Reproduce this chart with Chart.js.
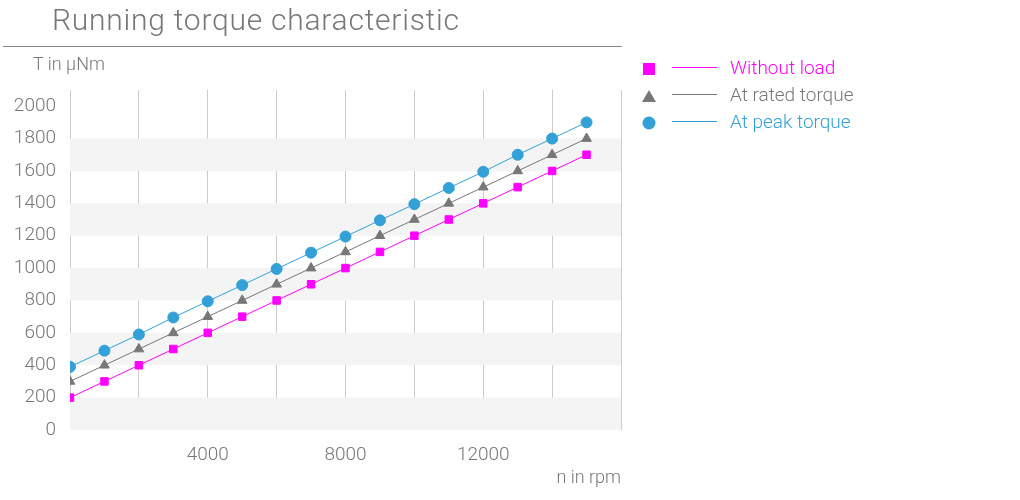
<!DOCTYPE html>
<html>
<head>
<meta charset="utf-8">
<script src="https://cdn.jsdelivr.net/npm/chart.js@4/dist/chart.umd.min.js"></script>
<style>
  html, body { margin: 0; padding: 0; background: #fff; }
  body { width: 1020px; height: 500px; position: relative; overflow: hidden; font-family: Roboto, "Noto Sans", sans-serif; color: #777; }
  #wrap { position: absolute; left: 0; top: 0; width: 1020px; height: 500px; }
  #title { position: absolute; left: 52px; top: 0px; font-size: 30px; letter-spacing: 0.75px; font-weight: 300; color: #777; white-space: nowrap; line-height: 40px; }
  #rule { position: absolute; left: 3px; top: 46px; width: 619px; height: 1px; background: #888; }
  #ytitle { position: absolute; left: 33px; top: 53px; font-size: 18px; font-weight: 300; color: #777; white-space: nowrap; line-height: 22px; }
  #xtitle { position: absolute; right: 399px; top: 466px; font-size: 18px; font-weight: 300; color: #777; white-space: nowrap; line-height: 22px; }
  #legend { position: absolute; left: 640px; top: 56px; }
  .row { position: relative; height: 27px; width: 300px; }
  .mk { position: absolute; left: 2px; top: 6px; width: 14px; height: 14px; }
  .ln { position: absolute; left: 32px; top: 11px; width: 45px; height: 1px; }
  .tx { position: absolute; left: 90px; top: 0px; font-size: 19px; font-weight: 300; line-height: 24px; white-space: nowrap; }
</style>
</head>
<body>
<div id="wrap"><canvas id="c" width="1020" height="500"></canvas></div>
<div id="title">Running torque characteristic</div>
<div id="rule"></div>
<div id="ytitle">T in µNm</div>
<div id="xtitle">n in rpm</div>
<div id="legend"></div>
<script>
const speeds = [0, 1000, 2000, 3000, 4000, 5000, 6000, 7000, 8000, 9000, 10000, 11000, 12000, 13000, 14000, 15000];
const withoutLoad = [200, 300, 400, 500, 600, 700, 800, 900, 1000, 1100, 1200, 1300, 1400, 1500, 1600, 1700];
const atRatedTorque = [300, 400, 500, 600, 700, 800, 900, 1000, 1100, 1200, 1300, 1400, 1500, 1600, 1700, 1800];
const atPeakTorque = [390, 490, 590, 695, 795, 895, 995, 1095, 1195, 1295, 1395, 1495, 1595, 1700, 1800, 1900];
const seriesNames = ["Without load", "At rated torque", "At peak torque"];
const seriesColors = ["#ff00ff", "#777777", "#33a0d8"];
const seriesMarkers = ["rect", "triangle", "circle"];
const xTickLabels = [4000, 8000, 12000];
const yTickLabels = [0, 200, 400, 600, 800, 1000, 1200, 1400, 1600, 1800, 2000];

const seriesValues = [withoutLoad, atRatedTorque, atPeakTorque];
const markerRadius = { rect: 5.3, triangle: 5.6, circle: 5.5 };

const bands = {
  id: 'bands',
  beforeDatasetsDraw(chart) {
    const y = chart.scales.y, a = chart.chartArea, ctx = chart.ctx;
    ctx.save();
    ctx.fillStyle = '#f4f4f4';
    for (let i = 0; i + 1 < yTickLabels.length; i += 2) {
      const top = y.getPixelForValue(yTickLabels[i + 1]);
      const bot = y.getPixelForValue(yTickLabels[i]);
      ctx.fillRect(a.left, top, a.right - a.left, bot - top);
    }
    ctx.restore();
  }
};

const datasets = seriesValues.map((vals, k) => ({
  label: seriesNames[k],
  data: speeds.map((s, i) => ({ x: s, y: vals[i] })),
  borderColor: seriesColors[k],
  backgroundColor: seriesColors[k],
  borderWidth: 1,
  pointStyle: seriesMarkers[k],
  pointRadius: markerRadius[seriesMarkers[k]],
  pointBorderWidth: 1,
  pointHoverRadius: markerRadius[seriesMarkers[k]],
  tension: 0
}));

new Chart(document.getElementById('c'), {
  type: 'line',
  data: { datasets },
  plugins: [bands],
  options: {
    responsive: false,
    animation: false,
    events: [],
    layout: { padding: { left: 0, right: 399, top: 90, bottom: 0 } },
    plugins: { legend: { display: false }, tooltip: { enabled: false } },
    scales: {
      x: {
        type: 'linear',
        min: 0, max: 16000,
        border: { display: false },
        grid: { color: '#cccccc', lineWidth: 1, drawTicks: false },
        ticks: {
          stepSize: 2000, padding: 14, color: '#777',
          font: { family: 'Roboto', size: 19, weight: 300 },
          maxRotation: 0, autoSkip: false,
          callback: v => xTickLabels.includes(v) ? String(v) : ''
        },
        afterFit: s => { s.height = 70; }
      },
      y: {
        min: 0, max: 2100,
        border: { display: false },
        grid: { display: false },
        afterBuildTicks: s => { s.ticks = yTickLabels.map(v => ({ value: v })); },
        ticks: {
          padding: 6, color: '#777',
          font: { family: 'Roboto', size: 19, weight: 300 },
          callback: v => String(v)
        },
        afterFit: s => { s.width = 70; }
      }
    }
  }
});

const legend = document.getElementById('legend');
seriesNames.forEach((name, k) => {
  const row = document.createElement('div'); row.className = 'row';
  const mk = document.createElement('canvas'); mk.className = 'mk'; mk.width = 14; mk.height = 14;
  const c = mk.getContext('2d'); c.fillStyle = seriesColors[k];
  if (seriesMarkers[k] === 'rect') c.fillRect(1, 1, 12, 12);
  else if (seriesMarkers[k] === 'triangle') { c.beginPath(); c.moveTo(7, 1); c.lineTo(14, 13); c.lineTo(0, 13); c.closePath(); c.fill(); }
  else { c.beginPath(); c.arc(7, 7, 6.5, 0, Math.PI * 2); c.fill(); }
  const ln = document.createElement('div'); ln.className = 'ln'; ln.style.background = seriesColors[k];
  const tx = document.createElement('div'); tx.className = 'tx'; tx.style.color = seriesColors[k]; tx.textContent = name;
  row.appendChild(mk); row.appendChild(ln); row.appendChild(tx);
  legend.appendChild(row);
});
</script>
</body>
</html>
